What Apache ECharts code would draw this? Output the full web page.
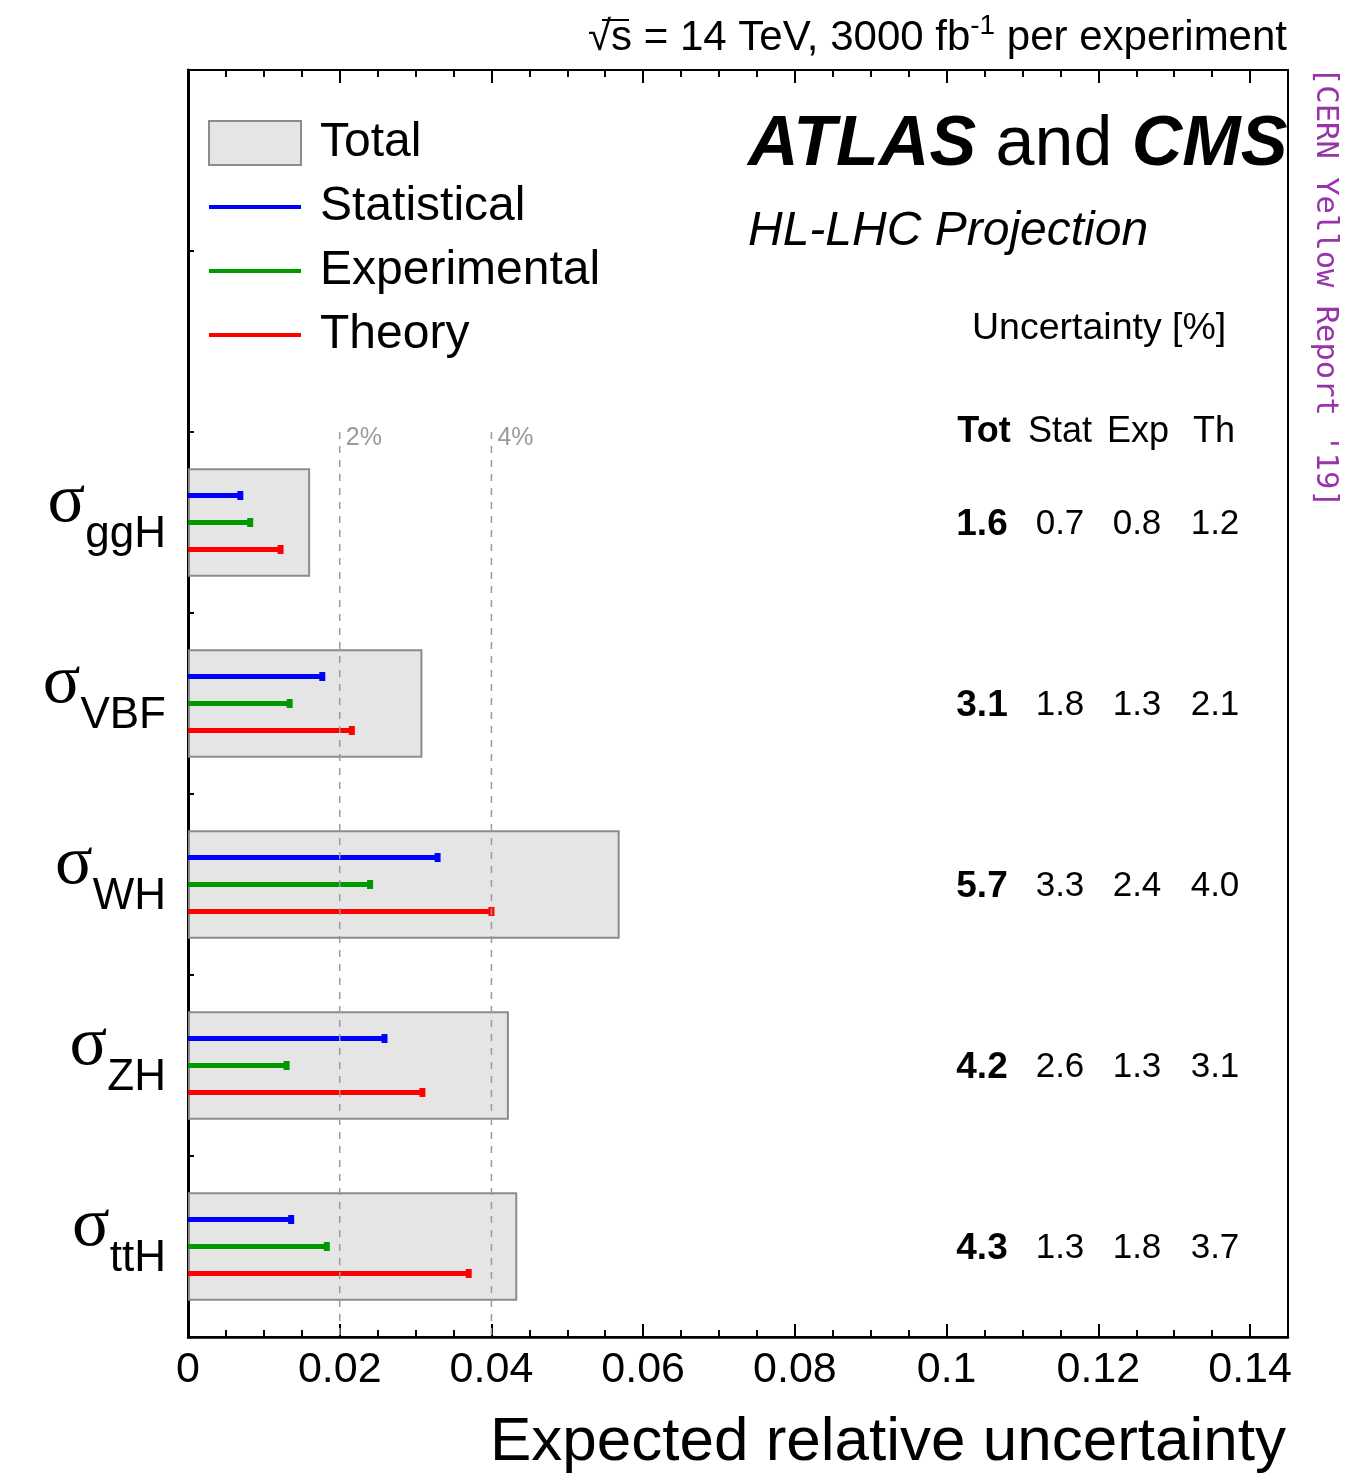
<!DOCTYPE html>
<html><head><meta charset="utf-8">
<script src="https://cdn.jsdelivr.net/npm/echarts@6/dist/echarts.min.js"></script>
<style>html,body{margin:0;padding:0;background:#fff}#c{width:1368px;height:1476px}</style>
</head><body><div id="c"></div>
<script>
// ---- data ----
const categories = ['ggH', 'VBF', 'WH', 'ZH', 'ttH'];
const totalVals = [0.0161, 0.0309, 0.0569, 0.0423, 0.0434];
const statVals  = [0.0069, 0.0177, 0.0329, 0.0259, 0.0136];
const expVals   = [0.0082, 0.0134, 0.0240, 0.0130, 0.0183];
const thVals    = [0.0122, 0.0216, 0.0400, 0.0309, 0.0370];
const tableHeaders = ['Tot', 'Stat', 'Exp', 'Th'];
const totLabels  = ['1.6', '3.1', '5.7', '4.2', '4.3'];
const statLabels = ['0.7', '1.8', '3.3', '2.6', '1.3'];
const expLabels  = ['0.8', '1.3', '2.4', '1.3', '1.8'];
const thLabels   = ['1.2', '2.1', '4.0', '3.1', '3.7'];
const refLines  = [0.02, 0.04];
const refLabels = ['2%', '4%'];
const xMin = 0, xMax = 0.145, xMajor = 0.02, xMinor = 0.005;

// ---- styling ----
const SANS = '"Liberation Sans", Arial, sans-serif';
const SERIF = '"Liberation Serif", "Times New Roman", serif';
const C_STAT = '#0000ff', C_EXP = '#009900', C_TH = '#ff0000';
const colCenters = [982, 1060, 1137, 1215];

const yCats = categories.slice().reverse().concat([' ', '  ']);

function errRender(k, color) {
  return function (params, api) {
    const band = api.size([0, 1])[1];
    const p0 = api.coord([0, api.value(1)]);
    const p1 = api.coord([api.value(0), api.value(1)]);
    const y = p0[1] + k * 0.149 * band;
    return {
      type: 'group', children: [
        { type: 'rect', shape: { x: p0[0], y: y - 2.5, width: p1[0] - p0[0], height: 5 }, style: { fill: color } },
        { type: 'rect', shape: { x: p1[0] - 3, y: y - 4.5, width: 6, height: 9 }, style: { fill: color } }
      ]
    };
  };
}
function errSeries(name, vals, k, color) {
  return {
    name: name, type: 'custom', xAxisIndex: 0, yAxisIndex: 0,
    itemStyle: { color: color },
    encode: { x: 0, y: 1 },
    data: vals.map((v, i) => [v, categories[i]]),
    renderItem: errRender(k, color), z: 3
  };
}

const chart = echarts.init(document.getElementById('c'), null, { renderer: 'canvas' });

const xBase = { type: 'value', min: xMin, max: xMax, gridIndex: 0, splitLine: { show: false } };

const option = {
  backgroundColor: '#fff',
  animation: false,
  grid: { left: 188, right: 80, top: 70, bottom: 139, show: true, borderColor: '#000', borderWidth: 2, containLabel: false },
  legend: {
    orient: 'vertical', left: 208, top: 119, padding: 0, itemGap: 16,
    itemWidth: 92, itemHeight: 44,
    textStyle: { fontSize: 48, fontFamily: SANS, color: '#000', lineHeight: 44, padding: [0, 0, 0, 14] },
    data: [
      { name: 'Total', icon: 'rect', itemStyle: { color: '#e5e5e5', borderColor: '#8c8c8c', borderWidth: 2 } },
      { name: 'Statistical', icon: 'path://M0,0H92V4H0Z', itemStyle: { color: C_STAT } },
      { name: 'Experimental', icon: 'path://M0,0H92V4H0Z', itemStyle: { color: C_EXP } },
      { name: 'Theory', icon: 'path://M0,0H92V4H0Z', itemStyle: { color: C_TH } }
    ]
  },
  xAxis: [
    Object.assign({}, xBase, {
      position: 'bottom', interval: xMajor,
      axisLine: { show: true, lineStyle: { color: '#000', width: 2.5 } },
      axisTick: { show: true, inside: true, length: 13, lineStyle: { color: '#000', width: 2 } },
      axisLabel: {
        show: true, showMaxLabel: false, margin: 12, fontSize: 43, fontFamily: SANS, color: '#000',
        formatter: v => (v === 0 ? '0' : String(+v.toFixed(3)))
      }
    }),
    Object.assign({}, xBase, {
      position: 'bottom', interval: xMinor,
      axisLine: { show: false },
      axisTick: { show: true, inside: true, length: 7, lineStyle: { color: '#000', width: 2 } },
      axisLabel: { show: false }
    }),
    Object.assign({}, xBase, {
      position: 'top', interval: xMajor,
      axisLine: { show: true, lineStyle: { color: '#000', width: 2 } },
      axisTick: { show: true, inside: true, length: 13, lineStyle: { color: '#000', width: 2 } },
      axisLabel: { show: false }
    }),
    Object.assign({}, xBase, {
      position: 'top', interval: xMinor,
      axisLine: { show: false },
      axisTick: { show: true, inside: true, length: 7, lineStyle: { color: '#000', width: 2 } },
      axisLabel: { show: false }
    })
  ],
  yAxis: {
    type: 'category', data: yCats, boundaryGap: true,
    axisLine: { show: true, lineStyle: { color: '#000', width: 3 } },
    axisTick: { show: true, inside: true, length: 6, lineStyle: { color: '#000', width: 2 } },
    splitLine: { show: false },
    axisLabel: {
      show: true, margin: 22, align: 'right',
      formatter: v => (v.trim() ? '{s|σ}{sub|' + v + '}' : ''),
      rich: {
        s: { fontFamily: SERIF, fontSize: 70, lineHeight: 70, color: '#000', padding: [0, 0, 40, 0] },
        sub: { fontFamily: SANS, fontSize: 44, lineHeight: 44, color: '#000', padding: [24, 0, 0, 0] }
      }
    }
  },
  series: [
    {
      name: 'Total', type: 'bar', xAxisIndex: 0, yAxisIndex: 0, barWidth: '60%',
      encode: { x: 0, y: 1 },
      data: totalVals.map((v, i) => [v, categories[i]]),
      itemStyle: { color: '#e5e5e5', borderColor: '#8c8c8c', borderWidth: 2 }, z: 2
    },
    errSeries('Statistical', statVals, -1, C_STAT),
    errSeries('Experimental', expVals, 0, C_EXP),
    errSeries('Theory', thVals, 1, C_TH),
    {
      name: 'refLines', type: 'custom', xAxisIndex: 0, yAxisIndex: 0, z: 4, silent: true,
      encode: { x: 0, y: 1 },
      data: refLines.map(v => [v, categories[0]]),
      renderItem: function (params, api) {
        const cs = params.coordSys;
        const band = api.size([0, 1])[1];
        const p = api.coord([api.value(0), api.value(1)]);
        const top = p[1] - band / 2;
        return {
          type: 'group', children: [
            { type: 'line', shape: { x1: p[0], y1: top, x2: p[0], y2: cs.y + cs.height }, style: { stroke: '#9a9a9a', lineWidth: 1.5, lineDash: [7, 7] } },
            { type: 'text', x: p[0] + 6, y: top + 6, style: { text: refLabels[params.dataIndex], font: '25px ' + SANS, fill: '#9a9a9a', align: 'left', verticalAlign: 'middle' } }
          ]
        };
      }
    },
    {
      name: 'table', type: 'custom', xAxisIndex: 0, yAxisIndex: 0, z: 5, silent: true,
      encode: { x: 0, y: 1 },
      data: categories.map(c => [0, c]),
      renderItem: function (params, api) {
        const i = params.dataIndex;
        const y = api.coord([0, api.value(1)])[1] + 2;
        const labs = [totLabels[i], statLabels[i], expLabels[i], thLabels[i]];
        return {
          type: 'group', children: labs.map((t, j) => ({
            type: 'text', x: colCenters[j], y: y,
            style: { text: t, font: (j === 0 ? 'bold 37px ' : '35px ') + SANS, fill: '#000', align: 'center', verticalAlign: 'middle' }
          }))
        };
      }
    }
  ],
  graphic: [
    { type: 'text', x: 1287, y: 38, style: {
        text: '{n|√s = 14 TeV, 3000 fb}{sup|-1}{n| per experiment}', align: 'right', verticalAlign: 'middle',
        rich: { n: { fontSize: 42, fontFamily: SANS, fill: '#000' }, sup: { fontSize: 28, fontFamily: SANS, fill: '#000', padding: [0, 0, 24, 0] } }
      } },
    { type: 'line', shape: { x1: 602, y1: 20, x2: 629, y2: 20 }, style: { stroke: '#000', lineWidth: 2 } },
    { type: 'text', x: 748, y: 146, style: {
        text: '{b|ATLAS}{r| and }{b|CMS}', align: 'left', verticalAlign: 'middle',
        rich: { b: { fontSize: 70, fontFamily: SANS, fontWeight: 'bold', fontStyle: 'italic', fill: '#000' }, r: { fontSize: 70, fontFamily: SANS, fill: '#000' } }
      } },
    { type: 'text', x: 748, y: 232, style: { text: 'HL-LHC Projection', font: 'italic 48px ' + SANS, fill: '#000', align: 'left', verticalAlign: 'middle' } },
    { type: 'text', x: 972, y: 329, style: { text: 'Uncertainty [%]', font: '37.5px ' + SANS, fill: '#000', align: 'left', verticalAlign: 'middle' } }
  ].concat(tableHeaders.map((h, j) => ({
    type: 'text', x: [984, 1060, 1138, 1214][j], y: 432,
    style: { text: h, font: (j === 0 ? 'bold 36px ' : '36px ') + SANS, fill: '#000', align: 'center', verticalAlign: 'middle' }
  }))).concat([
    { type: 'text', x: 1286, y: 1443, style: { text: 'Expected relative uncertainty', font: '62px ' + SANS, fill: '#000', align: 'right', verticalAlign: 'middle' } },
    { type: 'text', x: 1325, y: 67, rotation: -Math.PI / 2, style: { text: "[CERN Yellow Report '19]", font: '30.5px "DejaVu Sans Mono", monospace', fill: '#9933aa', align: 'left', verticalAlign: 'middle' } }
  ])
};
chart.setOption(option);
</script>
</body></html>
